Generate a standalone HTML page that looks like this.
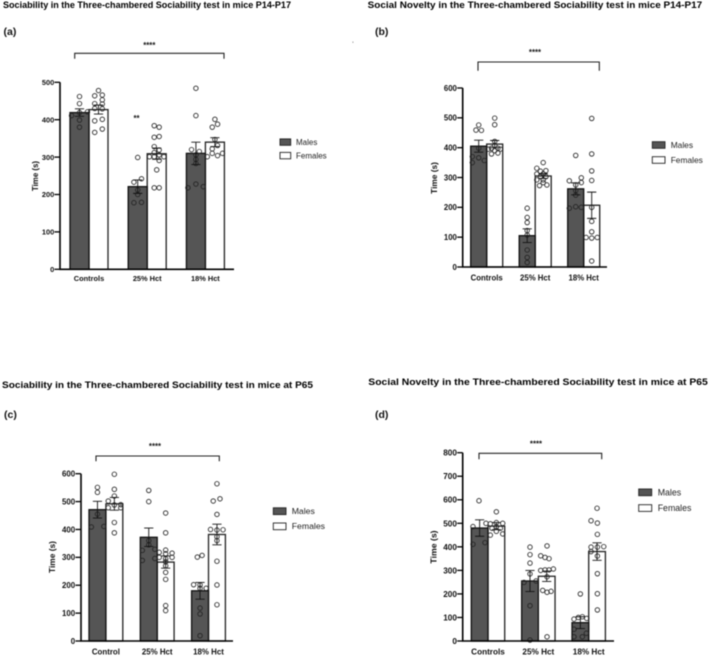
<!DOCTYPE html>
<html lang="en">
<head>
<meta charset="utf-8">
<title>Three-chambered Sociability test</title>
<style>
html,body{margin:0;padding:0;background:#fff;}
#figure{display:block;width:709px;height:656px;filter:blur(0.4px);font-family:"Liberation Sans",Arial,sans-serif;}
.title{font-weight:bold;font-size:9.2px;fill:#000;}
.tag{font-weight:bold;font-size:10.5px;fill:#111;}
.stars{font-weight:bold;font-size:7.8px;fill:#111;text-anchor:middle;}
.bracket{fill:none;stroke:#222;stroke-width:1.1;}
.legend-text{fill:#222;}
</style>
</head>
<body>
<svg id="figure" xmlns="http://www.w3.org/2000/svg" width="709" height="656" viewBox="0 0 709 656">
  <rect width="709" height="656" fill="#fff"/>

  <text class="title" x="3" y="7.8" textLength="288" lengthAdjust="spacingAndGlyphs">Sociability in the Three-chambered Sociability test in mice P14-P17</text>
  <text class="title" x="367.7" y="7.8" textLength="334.5" lengthAdjust="spacingAndGlyphs">Social Novelty in the Three-chambered Sociability test in mice P14-P17</text>
  <text class="title" x="2" y="388" textLength="311" lengthAdjust="spacingAndGlyphs">Sociability in the Three-chambered Sociability test in mice at P65</text>
  <text class="title" x="368.3" y="385" textLength="339.5" lengthAdjust="spacingAndGlyphs">Social Novelty in the Three-chambered Sociability test in mice at P65</text>

  <text class="tag" x="3.5" y="35">(a)</text>
  <text class="tag" x="375" y="35">(b)</text>
  <text class="tag" x="4" y="418">(c)</text>
  <text class="tag" x="375" y="418">(d)</text>

  <path class="bracket" d="M74.7 58.7V53.3H224V58.7"/>
  <path class="bracket" d="M478 70.7V62H599.3V70.7"/>
  <path class="bracket" d="M96 461.3V456H219.3V461.3"/>
  <path class="bracket" d="M479 459.3V453.3H601.7V459.3"/>

  <text class="stars" x="149.3" y="48">****</text>
  <text class="stars" x="535" y="55">****</text>
  <text class="stars" x="155" y="449">****</text>
  <text class="stars" x="536" y="446.5">****</text>
  <text class="stars" x="136.5" y="121">**</text>
  <rect x="352.5" y="41.5" width="0.8" height="1.4" fill="#888"/>

  <g id="plots"></g>

  <g font-size="8">
    <rect x="280" y="138.9" width="10.7" height="6.4" fill="#555" stroke="#222" stroke-width="0.9"/>
    <text class="legend-text" x="296" y="145">Males</text>
    <rect x="280" y="152.4" width="10.7" height="6.4" fill="#fff" stroke="#222" stroke-width="0.9"/>
    <text class="legend-text" x="296" y="158.5">Females</text>
  </g>
  <g font-size="8.4">
    <rect x="652.3" y="141.7" width="12.7" height="6.6" fill="#555" stroke="#222" stroke-width="0.9"/>
    <text class="legend-text" x="670.7" y="147.8">Males</text>
    <rect x="652.3" y="156.7" width="12.7" height="6.6" fill="#fff" stroke="#222" stroke-width="0.9"/>
    <text class="legend-text" x="670.7" y="162.8">Females</text>
  </g>
  <g font-size="8.7">
    <rect x="273.3" y="507.8" width="12.7" height="6.8" fill="#555" stroke="#222" stroke-width="0.9"/>
    <text class="legend-text" x="291.7" y="514">Males</text>
    <rect x="273.3" y="523" width="12.7" height="6.7" fill="#fff" stroke="#222" stroke-width="0.9"/>
    <text class="legend-text" x="291.7" y="529">Females</text>
  </g>
  <g font-size="8.8">
    <rect x="638.7" y="489" width="13" height="6.7" fill="#555" stroke="#222" stroke-width="0.9"/>
    <text class="legend-text" x="657.7" y="495.5">Males</text>
    <rect x="638.7" y="504.7" width="13" height="6.7" fill="#fff" stroke="#222" stroke-width="0.9"/>
    <text class="legend-text" x="657.7" y="511">Females</text>
  </g>
</svg>

<script>
// ---- Panel (a) data ----
const aCategories = ["Controls", "25% Hct", "18% Hct"];
const aTicks = [0, 100, 200, 300, 400, 500];
const aMales = [419, 221, 310];
const aFemales = [427, 309, 340];
const aMalesErr = [10, 18, 30];
const aFemalesErr = [12, 15, 12];
const aMaleDots = [
  [462, 443, 419, 411, 421, 399, 380],
  [299, 233, 242, 212, 200, 178, 179],
  [484, 411, 320, 315, 306, 294, 283, 218, 228, 221]
];
const aMaleJitter = [
  [0, 0, 0, -.42, .42, 0, 0],
  [0, -.2, .2, 0, 0, -.2, .2],
  [0, 0, -.23, .18, 0, 0, 0, -.42, 0, .39]
];
const aFemaleDots = [
  [478, 464, 466, 453, 443, 442, 430, 429, 397, 401, 366, 375],
  [384, 380, 353, 355, 328, 319, 312, 301, 301, 306, 301, 291, 266, 218, 218],
  [401, 388, 380, 347, 322, 331, 301, 310, 304, 310]
];
const aFemaleJitter = [
  [0, -.2, .2, .2, -.2, .2, -.2, .2, -.2, .2, -.2, .2],
  [-.13, .13, -.13, .13, -.13, .13, -.13, -.38, -.13, .13, .38, .13, 0, -.13, .13],
  [0, .14, -.14, 0, -.14, .14, -.4, -.14, .14, .4]
];

// ---- Panel (b) data ----
const bCategories = ["Controls", "25% Hct", "18% Hct"];
const bTicks = [0, 100, 200, 300, 400, 500, 600];
const bMales = [405, 105, 262];
const bFemales = [412, 305, 207];
const bMalesErr = [20, 23, 20];
const bFemalesErr = [12, 8, 44];
const bMaleDots = [
  [476, 459, 458, 398, 370, 366, 350, 357],
  [197, 166, 149, 122, 107, 57, 32, 15],
  [374, 289, 299, 275, 283, 256, 241, 197, 202, 200]
];
const bMaleJitter = [
  [0, -.17, .17, 0, -.4, 0, -.4, .35],
  [0, 0, 0, 0, 0, 0, 0, 0],
  [0, -.4, .35, 0, .35, 0, 0, -.4, 0, .35]
];
const bFemaleDots = [
  [499, 477, 421, 408, 398, 398, 395, 395, 379, 382, 390],
  [350, 331, 323, 321, 312, 312, 303, 303, 292, 292, 273, 275, 283],
  [498, 379, 322, 290, 200, 153, 118, 99, 97, 99, 20]
];
const bFemaleJitter = [
  [0, 0, 0, 0, -.2, .2, -.4, .35, -.2, .2, 0],
  [0, -.4, .17, -.17, -.4, 0, .17, -.17, -.4, 0, -.23, .23, 0],
  [0, 0, 0, 0, 0, 0, 0, -.35, 0, .35, 0]
];

// ---- Panel (c) data ----
const cCategories = ["Control", "25% Hct", "18% Hct"];
const cTicks = [0, 100, 200, 300, 400, 500, 600];
const cMales = [471, 372, 180];
const cFemales = [492, 283, 382];
const cMalesErr = [30, 33, 30];
const cFemalesErr = [23, 22, 37];
const cMaleDots = [
  [551, 533, 455, 409, 411],
  [540, 500, 360, 345, 325, 329, 289, 296],
  [301, 307, 202, 201, 189, 189, 118, 97, 19]
];
const cMaleJitter = [
  [0, 0, 0, -.36, .38],
  [0, 0, 0, 0, -.38, .36, -.38, .36],
  [-.16, .12, -.38, 0, 0, .36, 0, 0, 0]
];
const cFemaleDots = [
  [598, 544, 520, 502, 488, 489, 478, 478, 425, 388],
  [459, 388, 326, 318, 315, 313, 300, 300, 295, 284, 270, 246, 221, 127, 109],
  [564, 502, 510, 454, 400, 398, 399, 374, 360, 286, 201, 130]
];
const cFemaleJitter = [
  [0, 0, 0, -.36, 0, .38, -.36, .38, 0, 0],
  [0, 0, 0, -.38, .38, 0, -.38, .38, 0, 0, 0, 0, 0, 0, 0],
  [0, -.22, .18, 0, -.38, 0, .36, 0, 0, 0, 0, 0]
];

// ---- Panel (d) data ----
const dCategories = ["Controls", "25% Hct", "18% Hct"];
const dTicks = [0, 100, 200, 300, 400, 500, 600, 700, 800];
const dMales = [480, 255, 78];
const dFemales = [488, 275, 380];
const dMalesErr = [35, 45, 25];
const dFemalesErr = [15, 22, 37];
const dMaleDots = [
  [596, 486, 411, 418],
  [399, 367, 331, 285, 249, 255, 150, 4],
  [200, 93, 100, 103, 96, 50, 18, 18, 33]
];
const dMaleJitter = [
  [-.04, -.4, -.4, .32],
  [0, 0, 0, 0, -.36, .36, 0, 0],
  [0, -.38, -.12, .12, .38, -.38, -.38, .12, .36]
];
const dFemaleDots = [
  [549, 500, 498, 503, 500, 486, 479, 479, 466, 450, 455],
  [404, 362, 355, 350, 300, 302, 302, 306, 273, 215, 207, 211, 18],
  [564, 511, 501, 453, 399, 399, 401, 380, 361, 286, 201, 132]
];
const dFemaleJitter = [
  [0, -.62, -.36, 0, .38, 0, -.26, .24, 0, -.36, .38],
  [.02, -.36, -.1, .14, -.36, -.1, .14, .4, .02, -.24, .02, .26, .02],
  [0, -.36, .02, .02, -.36, .02, .4, -.36, .02, .02, .02, .02]
];

const SVGNS = "http://www.w3.org/2000/svg";

function make(tag, attrs, parent) {
  const el = document.createElementNS(SVGNS, tag);
  for (const k in attrs) el.setAttribute(k, attrs[k]);
  parent.appendChild(el);
  return el;
}

function drawPanel(id, layout, data) {
  const root = document.getElementById("plots");
  const g = make("g", {}, root);
  
  

  const yScale = v => layout.y0 - (v / layout.yMax) * (layout.y0 - layout.yTop);
  const barX = (cat, series) => layout.first + cat * layout.groupStep + series * layout.barW;
  const barCenter = (cat, series) => barX(cat, series) + layout.barW / 2;

  const series = [
    { key: "males", values: data.males, err: data.malesErr, dots: data.maleDots, jitter: data.maleJitter, fill: "#555", stroke: "#111" },
    { key: "females", values: data.females, err: data.femalesErr, dots: data.femaleDots, jitter: data.femaleJitter, fill: "#fff", stroke: "#222" }
  ];

  // bars
  [1, 0].forEach(function (s) {
    const sr = series[s];
    sr.values.forEach(function (v, c) {
      const bar = make("rect", {
        x: barX(c, s), y: yScale(v), width: layout.barW, height: layout.y0 - yScale(v),
        fill: sr.fill, stroke: sr.stroke, "stroke-width": 1.3
      }, g);
      
      
    });
  });

  // dots and error bars
  series.forEach(function (sr, s) {
    sr.dots.forEach(function (vals, c) {
      vals.forEach(function (v, i) {
        const dot = make("circle", {
          cx: barCenter(c, s) + sr.jitter[c][i] * layout.barW, cy: yScale(v), r: 2.25,
          fill: "none", stroke: "#222", "stroke-width": 0.85
        }, g);
        
        
      });
    });
    sr.values.forEach(function (v, c) {
      const cx = barCenter(c, s);
      const top = yScale(v + sr.err[c]);
      const bottom = yScale(v - sr.err[c]);
      const cap = 4.6;
      const err = make("path", {
        d: "M" + (cx - cap) + " " + top + "H" + (cx + cap) + "M" + cx + " " + top + "V" + bottom + "M" + (cx - cap) + " " + bottom + "H" + (cx + cap),
        fill: "none", stroke: "#111", "stroke-width": 0.9
      }, g);
      
      
    });
  });

  // axes
  const axis = make("path", {
    d: "M" + layout.axisX + " " + layout.yTop + "V" + layout.y0 + "H" + layout.axisEnd,
    fill: "none", stroke: "#000", "stroke-width": 1.6
  }, g);
  
  

  data.ticks.forEach(function (t) {
    const y = yScale(t);
    const tick = make("line", {
      x1: layout.axisX - 5.5, x2: layout.axisX, y1: y, y2: y, stroke: "#000", "stroke-width": 1.3
    }, g);
    
    
    const label = make("text", {
      x: layout.axisX - 5.8, y: y + layout.font * 0.36, "text-anchor": "end",
      "font-size": layout.font, "font-weight": "bold", fill: "#111"
    }, g);
    
    
    label.textContent = t;
  });

  data.categories.forEach(function (name, c) {
    const label = make("text", {
      x: barX(c, 1), y: layout.catY, "text-anchor": "middle",
      "font-size": layout.font, "font-weight": "bold", fill: "#111"
    }, g);
    
    
    label.textContent = name;
  });

  const yTitle = make("text", {
    transform: "translate(" + layout.yTitleX + " " + layout.yTitleY + ") rotate(-90)",
    "text-anchor": "middle", "font-size": layout.font + 0.5, "font-weight": "bold", fill: "#111"
  }, g);
  
  
  yTitle.textContent = "Time (s)";
}

drawPanel("a",
  { axisX: 60, axisEnd: 234, y0: 269.3, yTop: 82.3, yMax: 500, first: 70, groupStep: 58.2, barW: 19, font: 7.4, catY: 281.2, yTitleX: 37.8, yTitleY: 176 },
  { categories: aCategories, ticks: aTicks, males: aMales, females: aFemales, malesErr: aMalesErr, femalesErr: aFemalesErr, maleDots: aMaleDots, maleJitter: aMaleJitter, femaleDots: aFemaleDots, femaleJitter: aFemaleJitter });
drawPanel("b",
  { axisX: 462.7, axisEnd: 607, y0: 267, yTop: 88, yMax: 600, first: 470.7, groupStep: 48.5, barW: 16, font: 7.8, catY: 280.5, yTitleX: 437, yTitleY: 178 },
  { categories: bCategories, ticks: bTicks, males: bMales, females: bFemales, malesErr: bMalesErr, femalesErr: bFemalesErr, maleDots: bMaleDots, maleJitter: bMaleJitter, femaleDots: bFemaleDots, femaleJitter: bFemaleJitter });
drawPanel("c",
  { axisX: 81, axisEnd: 233, y0: 641, yTop: 473.7, yMax: 600, first: 89, groupStep: 51.3, barW: 16.9, font: 7.9, catY: 654.3, yTitleX: 55, yTitleY: 557 },
  { categories: cCategories, ticks: cTicks, males: cMales, females: cFemales, malesErr: cMalesErr, femalesErr: cFemalesErr, maleDots: cMaleDots, maleJitter: cMaleJitter, femaleDots: cFemaleDots, femaleJitter: cFemaleJitter });
drawPanel("d",
  { axisX: 462.7, axisEnd: 614, y0: 641, yTop: 452.7, yMax: 800, first: 471.3, groupStep: 50.35, barW: 16.7, font: 8.2, catY: 654.3, yTitleX: 436.5, yTitleY: 547 },
  { categories: dCategories, ticks: dTicks, males: dMales, females: dFemales, malesErr: dMalesErr, femalesErr: dFemalesErr, maleDots: dMaleDots, maleJitter: dMaleJitter, femaleDots: dFemaleDots, femaleJitter: dFemaleJitter });
</script>
</body>
</html>
